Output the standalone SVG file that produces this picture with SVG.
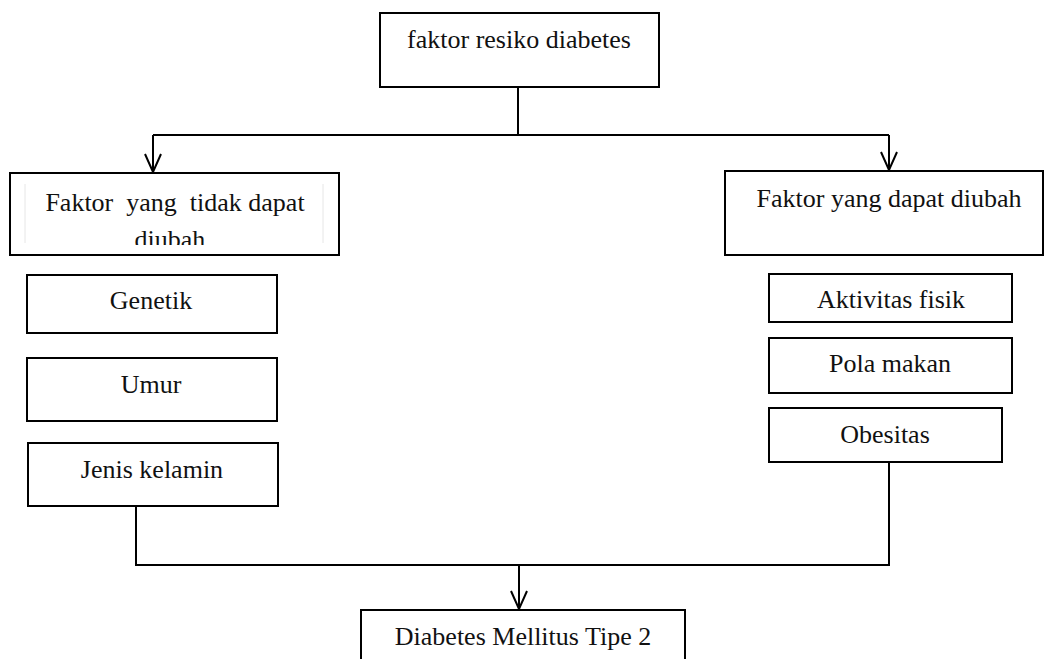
<svg xmlns="http://www.w3.org/2000/svg" width="1044" height="659" viewBox="0 0 1044 659">
<style>
.box{fill:#fff;stroke:#000;stroke-width:2}
.t{font-family:"Liberation Serif","Times New Roman",serif;font-size:26px;fill:#111;text-anchor:middle}
.c{fill:none;stroke:#000;stroke-width:2}
</style>
<defs>
<marker id="arr" viewBox="0 0 22 20" markerWidth="22" markerHeight="20" refX="20" refY="10" orient="auto" markerUnits="userSpaceOnUse">
<path d="M2,2 L20,10 L2,18" fill="none" stroke="#000" stroke-width="2"/>
</marker>
<clipPath id="clipL"><rect x="12" y="175" width="325" height="70"/></clipPath>
</defs>
<g id="connectors">
<path class="c" d="M518,87 V135"/>
<path class="c" d="M153,135 H889"/>
<path class="c" d="M153,135 V172" marker-end="url(#arr)"/>
<path class="c" d="M889,135 V170" marker-end="url(#arr)"/>
<path class="c" d="M136,506 V565 H889 V462"/>
<path class="c" d="M519,565 V609" marker-end="url(#arr)"/>
</g>
<g id="top">
<rect class="box" x="380" y="13" width="279" height="74"/>
<text class="t" x="519" y="48">faktor resiko diabetes</text>
</g>
<g id="left">
<rect class="box" x="10" y="173" width="329" height="82"/>
<line x1="25" y1="184" x2="25" y2="243" stroke="#e6e6e6" stroke-width="1"/>
<line x1="323" y1="184" x2="323" y2="243" stroke="#e6e6e6" stroke-width="1"/>
<g clip-path="url(#clipL)">
<text class="t" x="175" y="211" xml:space="preserve">Faktor  yang  tidak dapat</text>
<text class="t" x="170" y="248">diubah</text>
</g>
</g>
<g id="right">
<rect class="box" x="725" y="171" width="318" height="84"/>
<text class="t" x="889" y="207">Faktor yang dapat diubah</text>
</g>
<g id="genetik">
<rect class="box" x="27" y="275" width="250" height="58"/>
<text class="t" x="151" y="309">Genetik</text>
</g>
<g id="umur">
<rect class="box" x="27" y="358" width="250" height="63"/>
<text class="t" x="151" y="393">Umur</text>
</g>
<g id="jenis">
<rect class="box" x="28" y="443" width="250" height="63"/>
<text class="t" x="152" y="478">Jenis kelamin</text>
</g>
<g id="aktivitas">
<rect class="box" x="769" y="274" width="243" height="48"/>
<text class="t" x="891" y="308">Aktivitas fisik</text>
</g>
<g id="pola">
<rect class="box" x="769" y="338" width="243" height="55"/>
<text class="t" x="890" y="372">Pola makan</text>
</g>
<g id="obesitas">
<rect class="box" x="769" y="408" width="233" height="54"/>
<text class="t" x="885" y="443">Obesitas</text>
</g>
<g id="dm">
<rect class="box" x="361" y="610" width="324" height="60"/>
<text class="t" x="523" y="645">Diabetes Mellitus Tipe 2</text>
</g>
</svg>
